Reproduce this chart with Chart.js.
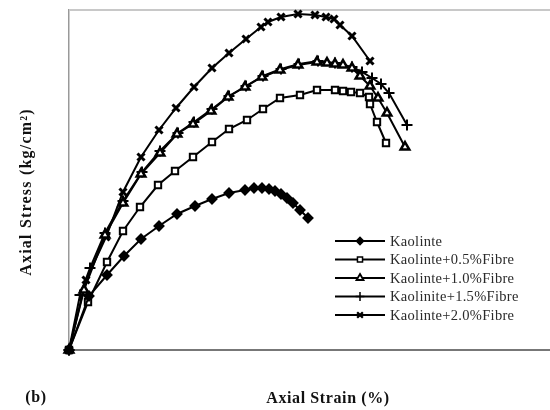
<!DOCTYPE html>
<html>
<head>
<meta charset="utf-8">
<script src="https://cdn.jsdelivr.net/npm/chart.js@4"></script>
<style>
html, body { margin: 0; padding: 0; background: #fff; overflow: hidden; }
#wrap { width: 550px; height: 410px; overflow: hidden; position: relative; }
canvas { position: absolute; left: 0; top: 0; }
</style>
</head>
<body>
<div id="wrap"><canvas id="stressChart" width="640" height="410"></canvas></div>
<script>
// stress-strain curves, values (strain %, stress kg/cm2)

const seriesNames = [
    "Kaolinte",
    "Kaolinte+0.5%Fibre",
    "Kaolinte+1.0%Fibre",
    "Kaolinite+1.5%Fibre",
    "Kaolinte+2.0%Fibre"
];

const kaolStrain = [0, 0.5, 0.95, 1.375, 1.8, 2.25, 2.7, 3.15, 3.575, 4.0, 4.4, 4.625, 4.825, 5.0, 5.15, 5.3, 5.45, 5.6, 5.775, 5.975];
const kaolStress = [0, 0.54, 0.75, 0.94, 1.11, 1.24, 1.36, 1.44, 1.51, 1.57, 1.60, 1.62, 1.62, 1.61, 1.59, 1.56, 1.52, 1.47, 1.40, 1.32];

const fib05Strain = [0, 0.475, 0.95, 1.35, 1.775, 2.225, 2.65, 3.1, 3.575, 4.0, 4.45, 4.85, 5.275, 5.775, 6.2, 6.65, 6.85, 7.05, 7.275, 7.5, 7.525, 7.7, 7.925];
const fib05Stress = [0, 0.48, 0.88, 1.19, 1.43, 1.65, 1.79, 1.93, 2.08, 2.21, 2.30, 2.41, 2.52, 2.55, 2.60, 2.60, 2.59, 2.58, 2.57, 2.53, 2.46, 2.28, 2.07];

const fib10Strain = [0, 0.375, 0.9, 1.35, 1.8, 2.275, 2.7, 3.1, 3.55, 3.975, 4.4, 4.825, 5.275, 5.725, 6.2, 6.45, 6.65, 6.85, 7.075, 7.275, 7.525, 7.725, 7.95, 8.4];
const fib10Stress = [0, 0.60, 1.15, 1.47, 1.76, 1.97, 2.16, 2.26, 2.39, 2.53, 2.63, 2.73, 2.80, 2.85, 2.88, 2.87, 2.86, 2.85, 2.82, 2.74, 2.64, 2.52, 2.37, 2.03];

const fib15Strain = [0, 0.275, 0.525, 0.9, 1.35, 1.825, 2.275, 2.725, 3.125, 3.575, 4.0, 4.425, 4.85, 5.3, 5.75, 6.225, 6.65, 7.075, 7.325, 7.575, 7.8, 8.0, 8.45];
const fib15Stress = [0, 0.55, 0.82, 1.17, 1.49, 1.78, 1.99, 2.17, 2.28, 2.41, 2.54, 2.64, 2.74, 2.81, 2.86, 2.89, 2.87, 2.83, 2.78, 2.72, 2.66, 2.57, 2.25];

const fib20Strain = [0, 0.425, 0.925, 1.35, 1.8, 2.25, 2.675, 3.125, 3.575, 4.0, 4.425, 4.8, 4.975, 5.3, 5.725, 6.15, 6.425, 6.625, 6.775, 7.075, 7.525];
const fib20Stress = [0, 0.70, 1.13, 1.58, 1.93, 2.20, 2.42, 2.63, 2.82, 2.97, 3.11, 3.23, 3.28, 3.33, 3.36, 3.35, 3.33, 3.31, 3.25, 3.14, 2.89];

function toPoints(xs, ys) {
    return xs.map((x, i) => ({ x: x, y: ys[i] }));
}

function makeSeries(label, xs, ys, style) {
    return Object.assign({
        label: label,
        data: toPoints(xs, ys),
        borderColor: "#000",
        borderWidth: 2,
        pointBorderColor: "#000",
        pointBackgroundColor: "#000",
        pointBorderWidth: 2,
        clip: false
    }, style);
}

const datasets = [
    makeSeries(seriesNames[0], kaolStrain, kaolStress, { pointStyle: "rectRot", pointRadius: 4.5 }),
    makeSeries(seriesNames[1], fib05Strain, fib05Stress, { pointStyle: "rect", pointRadius: 4.5, pointBackgroundColor: "#fff" }),
    makeSeries(seriesNames[2], fib10Strain, fib10Stress, { pointStyle: "triangle", pointRadius: 5, pointBackgroundColor: "#fff", pointBorderWidth: 2.5 }),
    makeSeries(seriesNames[3], fib15Strain, fib15Stress, { pointStyle: "cross", pointRadius: 5.5 }),
    makeSeries(seriesNames[4], fib20Strain, fib20Stress, { pointStyle: "crossRot", pointRadius: 5, pointBorderWidth: 3 })
];

// top frame line, legend box and axis texts
const frameAndText = {
    id: "frameAndText",
    beforeDatasetsDraw(chart) {
        const { ctx, chartArea } = chart;
        ctx.save();
        ctx.strokeStyle = "#c8c8c8";
        ctx.lineWidth = 2;
        ctx.beginPath();
        ctx.moveTo(chartArea.left, chartArea.top);
        ctx.lineTo(chartArea.right, chartArea.top);
        ctx.stroke();
        ctx.restore();
    },
    afterDraw(chart) {
        const ctx = chart.ctx;
        ctx.save();

        // legend
        chart.data.datasets.forEach((ds, i) => {
            const y = 241 + i * 18.5;
            ctx.strokeStyle = "#000";
            ctx.lineWidth = 2;
            ctx.beginPath();
            ctx.moveTo(335, y);
            ctx.lineTo(385, y);
            ctx.stroke();
            ctx.fillStyle = ds.pointBackgroundColor;
            ctx.strokeStyle = "#000";
            ctx.lineWidth = ds.pointBorderWidth * 0.75;
            Chart.helpers.drawPoint(ctx, {
                pointStyle: ds.pointStyle,
                radius: ds.pointRadius * 0.8,
                borderWidth: ds.pointBorderWidth * 0.75,
                rotation: 0
            }, 360, y);
            ctx.fillStyle = "#2a2a2a";
            ctx.font = "14.5px 'Liberation Serif'";
            ctx.letterSpacing = "0.3px";
            ctx.textAlign = "left";
            ctx.textBaseline = "middle";
            ctx.fillText(ds.label, 390, y + 1);
        });

        // axis titles
        ctx.fillStyle = "#111";
        ctx.font = "bold 16px 'Liberation Serif'";
        ctx.letterSpacing = "0.6px";
        ctx.textAlign = "center";
        ctx.textBaseline = "middle";
        ctx.fillText("Axial Strain (%)", 328, 399);
        ctx.fillText("(b)", 36, 398);

        ctx.translate(27, 192);
        ctx.rotate(-Math.PI / 2);
        ctx.letterSpacing = "1.2px";
        ctx.fillText("Axial Stress (kg/cm\u00b2)", 0, 0);
        ctx.restore();
    }
};

const ctx = document.getElementById("stressChart").getContext("2d");
new Chart(ctx, {
    type: "line",
    data: { datasets: datasets },
    options: {
        responsive: false,
        animation: false,
        layout: { padding: { left: 0, top: 10, right: 11, bottom: 0 } },
        plugins: {
            legend: { display: false },
            tooltip: { enabled: false }
        },
        scales: {
            x: {
                type: "linear",
                min: 0,
                max: 14,
                grid: { display: false },
                ticks: { display: false },
                border: { color: "#777", width: 2 },
                afterFit(scale) { scale.height = 60; }
            },
            y: {
                min: 0,
                max: 3.4,
                grid: { display: false },
                ticks: { display: false },
                border: { color: "#999", width: 1.5 },
                afterFit(scale) { scale.width = 69; }
            }
        }
    },
    plugins: [frameAndText]
});
</script>
</body>
</html>
